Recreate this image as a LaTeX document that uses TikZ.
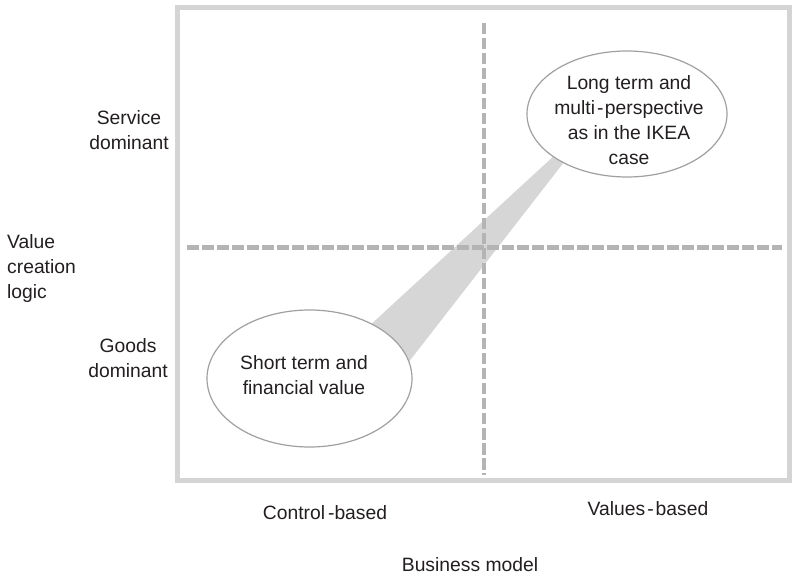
\documentclass[tikz,border=0pt]{standalone}
\usepackage{fontspec}
\setmainfont{Liberation Sans}
\usetikzlibrary{shapes.geometric}
\definecolor{framegray}{HTML}{D4D4D4}
\definecolor{dashgray}{HTML}{B4B4B4}
\definecolor{wedgegray}{HTML}{D6D6D6}
\definecolor{ellgray}{HTML}{A0A0A0}
\definecolor{txt}{HTML}{231F20}
\begin{document}
\begin{tikzpicture}[x=1pt,y=-1pt,
  font=\fontsize{19.3}{25}\selectfont,
  lbl/.style={text=txt, align=center, inner sep=0pt},
  bubble/.style={ellipse, draw=ellgray, line width=1.2pt, fill=white, inner sep=0pt},
  divider/.style={draw=dashgray, line width=4.5pt, dash pattern=on 11.5pt off 3.5pt},
  ]
\useasboundingbox (0,0) rectangle (793,577);
\fill[white] (0,0) rectangle (793,577);
% frame
\draw[framegray, line width=5pt] (177.5,7.5) rectangle (789,480);
% wedge
\coordinate (apex) at (606,108);
\coordinate (baseL) at (354,340);
\coordinate (baseR) at (387,390);
\fill[wedgegray] (apex) -- (baseL) -- (baseR) -- cycle;
% dashed dividers
\coordinate (vtop) at (484,23);
\coordinate (vbot) at (484,475);
\coordinate (hl) at (187,247.5);
\coordinate (hr) at (782,247.5);
\draw[divider] (vtop) -- (vbot);
\draw[divider] (hl) -- (hr);
% bubbles
\node[bubble, minimum width=200pt, minimum height=126pt] (lt) at (627,114) {};
\node[lbl] (lttext) at (629,120.5) {Long term and\\multi\kern2pt-\kern1.5pt perspective\\as in the IKEA\hspace*{0.5em}\\case};
\node[bubble, minimum width=205pt, minimum height=137pt] (st) at (309.5,378.5) {};
\node[lbl] (sttext) at (304,375.5) {Short term and\\financial value};
% axis labels
\node[lbl] (sd) at (129,130.5) {Service\\dominant};
\node[lbl, align=left, anchor=west] (vcl) at (7,269) {Value\\creation\\logic};
\node[lbl] (gd) at (128,358) {Goods\\dominant};
\node[lbl] (cb) at (325,513) {Control\kern3pt-based};
\node[lbl] (vb) at (648,509) {Values\kern2pt-\kern2pt based};
\node[lbl] (bm) at (470,565) {Business model};
\end{tikzpicture}
\end{document}
